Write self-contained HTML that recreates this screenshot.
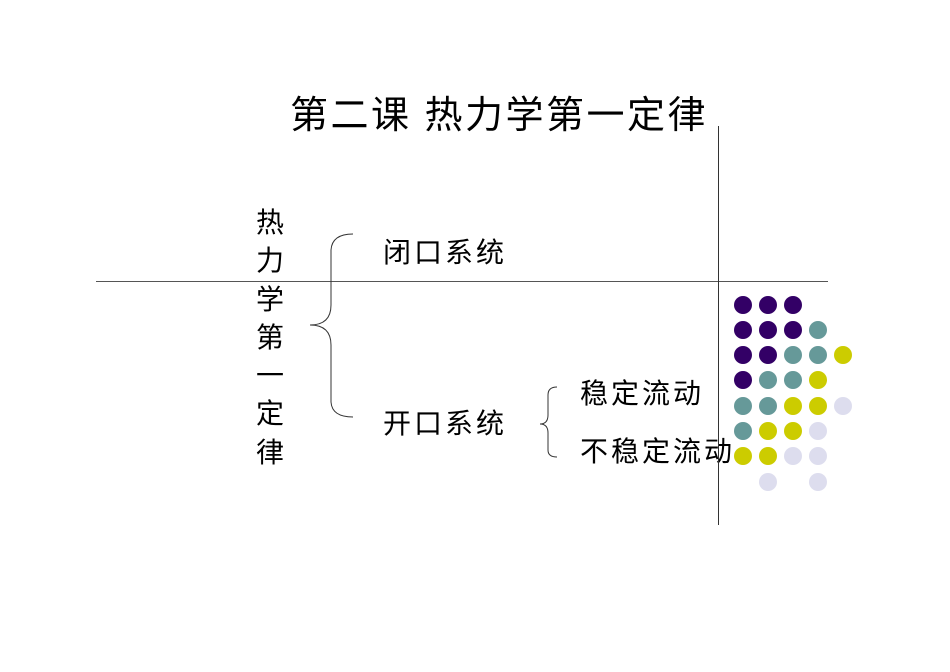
<!DOCTYPE html>
<html><head><meta charset="utf-8"><style>
body{margin:0;width:950px;height:672px;background:#fff;position:relative;overflow:hidden;font-family:"Liberation Sans","Noto Sans CJK SC",sans-serif;}
.t{position:absolute;white-space:nowrap;color:#000;line-height:1;letter-spacing:3px;}
</style></head><body>
<div class="t" style="left:290px;top:97px;font-size:38px;letter-spacing:2.5px;">第二课 热力学第一定律</div>
<div class="t" style="left:256px;top:204px;font-size:28px;width:30px;line-height:38.3px;white-space:normal;">热<br>力<br>学<br>第<br>一<br>定<br>律</div>
<div class="t" style="left:383px;top:239px;font-size:28px;">闭口系统</div>
<div class="t" style="left:383px;top:410px;font-size:28px;">开口系统</div>
<div class="t" style="left:580px;top:380px;font-size:28px;">稳定流动</div>
<div class="t" style="left:580px;top:438px;font-size:28px;">不稳定流动</div>
<svg width="950" height="672" style="position:absolute;left:0;top:0">
<line x1="96" y1="281.5" x2="828" y2="281.5" stroke="#555" stroke-width="1"/>
<line x1="718.5" y1="126" x2="718.5" y2="525" stroke="#333" stroke-width="1"/>
<path d="M353 234 Q332 234 331 250 L331 305 Q331 325 310 325 Q331 325 331 345 L331 402 Q332 417 353 417" fill="none" stroke="#333" stroke-width="1"/>
<path d="M557 387 Q548 387 548 395 L548 415 Q548 424 540 424 Q548 424 548 433 L548 450 Q548 457 557 457" fill="none" stroke="#333" stroke-width="1"/>
<g>
<circle cx="743" cy="305" r="9" fill="#330066"/><circle cx="768" cy="305" r="9" fill="#330066"/><circle cx="793" cy="305" r="9" fill="#330066"/>
<circle cx="743" cy="330" r="9" fill="#330066"/><circle cx="768" cy="330" r="9" fill="#330066"/><circle cx="793" cy="330" r="9" fill="#330066"/><circle cx="818" cy="330" r="9" fill="#669999"/>
<circle cx="743" cy="355" r="9" fill="#330066"/><circle cx="768" cy="355" r="9" fill="#330066"/><circle cx="793" cy="355" r="9" fill="#669999"/><circle cx="818" cy="355" r="9" fill="#669999"/><circle cx="843" cy="355" r="9" fill="#cccc00"/>
<circle cx="743" cy="380" r="9" fill="#330066"/><circle cx="768" cy="380" r="9" fill="#669999"/><circle cx="793" cy="380" r="9" fill="#669999"/><circle cx="818" cy="380" r="9" fill="#cccc00"/>
<circle cx="743" cy="406" r="9" fill="#669999"/><circle cx="768" cy="406" r="9" fill="#669999"/><circle cx="793" cy="406" r="9" fill="#cccc00"/><circle cx="818" cy="406" r="9" fill="#cccc00"/><circle cx="843" cy="406" r="9" fill="#ddddee"/>
<circle cx="743" cy="431" r="9" fill="#669999"/><circle cx="768" cy="431" r="9" fill="#cccc00"/><circle cx="793" cy="431" r="9" fill="#cccc00"/><circle cx="818" cy="431" r="9" fill="#ddddee"/>
<circle cx="743" cy="456" r="9" fill="#cccc00"/><circle cx="768" cy="456" r="9" fill="#cccc00"/><circle cx="793" cy="456" r="9" fill="#ddddee"/><circle cx="818" cy="456" r="9" fill="#ddddee"/>
<circle cx="768" cy="482" r="9" fill="#ddddee"/><circle cx="818" cy="482" r="9" fill="#ddddee"/>
</g>
</svg>
</body></html>
